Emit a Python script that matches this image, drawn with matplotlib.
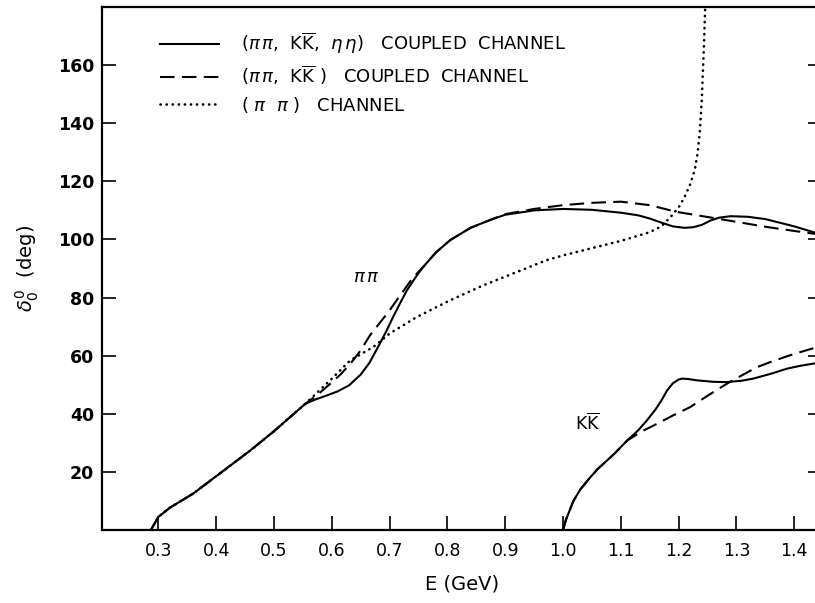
import numpy as np
import matplotlib
matplotlib.use("Agg")
import matplotlib.pyplot as plt

plt.rcParams['font.family'] = ['DejaVu Sans']
plt.rcParams['mathtext.fontset'] = 'dejavusans'

# pi-pi phase shift, three coupled channels (solid)
e_pp3 = [0.287, 0.30, 0.32, 0.36, 0.40, 0.4585, 0.50, 0.554, 0.57, 0.59, 0.61, 0.63,
         0.65, 0.665, 0.683, 0.695, 0.706, 0.718, 0.73, 0.745, 0.758, 0.78, 0.805,
         0.84, 0.874, 0.90, 0.95, 1.00, 1.05, 1.10, 1.13, 1.15, 1.17, 1.19, 1.21,
         1.225, 1.24, 1.255, 1.27, 1.29, 1.32, 1.35, 1.40, 1.45]
d_pp3 = [0.0, 4.5, 7.7, 12.5, 18.5, 27.3, 34.0, 43.4, 44.8, 46.2, 47.7, 49.8,
         53.5, 57.5, 64.1, 68.7, 73.3, 78.0, 82.5, 87.0, 90.5, 95.5, 99.8,
         104.0, 106.7, 108.5, 110.0, 110.5, 110.2, 109.2, 108.3, 107.2, 105.8, 104.5, 104.0,
         104.2, 105.0, 106.5, 107.5, 108.0, 107.8, 107.0, 104.5, 101.5]

# pi-pi phase shift, two coupled channels (dashed)
e_pp2 = [0.287, 0.30, 0.32, 0.36, 0.40, 0.4585, 0.50, 0.554, 0.575, 0.597, 0.615, 0.632,
         0.65, 0.666, 0.685, 0.70, 0.712, 0.723, 0.74, 0.758, 0.78, 0.805, 0.84, 0.874,
         0.90, 0.95, 1.00, 1.05, 1.10, 1.15, 1.196, 1.266, 1.352, 1.45]
d_pp2 = [0.0, 4.5, 7.7, 12.5, 18.5, 27.3, 34.0, 43.4, 46.5, 50.3, 53.5, 57.2,
         61.8, 67.0, 71.8, 75.6, 79.0, 82.0, 86.8, 90.5, 95.5, 99.8, 104.0, 106.7,
         108.7, 110.5, 111.8, 112.6, 113.0, 111.8, 109.5, 107.2, 104.3, 101.5]

# pi-pi phase shift, single channel (dotted)
e_pp1 = [0.287, 0.30, 0.32, 0.36, 0.40, 0.4585, 0.50, 0.554, 0.597, 0.632, 0.672,
         0.70, 0.747, 0.804, 0.862, 0.972, 1.00, 1.05, 1.10, 1.15, 1.17, 1.185, 1.20,
         1.21, 1.22, 1.228, 1.233, 1.237, 1.24, 1.242, 1.244, 1.246]
d_pp1 = [0.0, 4.5, 7.7, 12.5, 18.5, 27.3, 34.0, 43.4, 51.5, 58.4, 63.0,
         67.6, 73.3, 79.0, 84.2, 92.9, 94.5, 97.0, 99.5, 102.5, 104.5, 107.5, 111.0,
         114.5, 119.0, 124.0, 130.0, 138.0, 148.0, 158.0, 168.0, 180.0]

# K-Kbar phase shift, three coupled channels (solid)
e_kk3 = [1.0, 1.005, 1.01, 1.018, 1.03, 1.047, 1.06, 1.076, 1.09, 1.111, 1.13, 1.145,
         1.16, 1.17, 1.18, 1.19, 1.20, 1.206, 1.215, 1.232, 1.26, 1.283, 1.31, 1.329,
         1.36, 1.387, 1.41, 1.45]
d_kk3 = [0.0, 3.5, 6.0, 10.0, 14.0, 18.1, 21.0, 23.9, 26.5, 30.8, 34.3, 37.7,
         41.5, 44.5, 48.0, 50.5, 51.8, 52.1, 52.0, 51.5, 51.0, 50.9, 51.4, 52.1,
         53.8, 55.5, 56.5, 57.8]

# K-Kbar phase shift, two coupled channels (dashed)
e_kk2 = [1.0, 1.005, 1.01, 1.018, 1.03, 1.047, 1.06, 1.076, 1.09, 1.111, 1.135, 1.162,
         1.19, 1.22, 1.25, 1.283, 1.31, 1.335, 1.36, 1.392, 1.42, 1.45]
d_kk2 = [0.0, 3.5, 6.0, 10.0, 14.0, 18.1, 21.0, 23.9, 26.5, 30.8, 33.8, 36.5,
         39.4, 42.3, 46.2, 50.3, 53.3, 56.0, 57.9, 60.1, 61.8, 63.5]

xticks = [0.3, 0.4, 0.5, 0.6, 0.7, 0.8, 0.9, 1.0, 1.1, 1.2, 1.3, 1.4]
xticklabels = ['0.3', '0.4', '0.5', '0.6', '0.7', '0.8', '0.9', '1.0', '1.1', '1.2', '1.3', '1.4']
yticks = [20, 40, 60, 80, 100, 120, 140, 160]

labels = [r'($\pi\,\pi$,  K$\overline{\rm K}$,  $\eta\,\eta$)   COUPLED  CHANNEL',
          r'($\pi\,\pi$,  K$\overline{\rm K}$ )   COUPLED  CHANNEL',
          r'( $\pi$  $\pi$ )   CHANNEL']

fig = plt.figure(figsize=(8.15, 6.03), dpi=100)
ax = fig.add_axes([102.3 / 815, 73 / 603, 719.7 / 815, 523 / 603])

lw = 1.5
l1, = ax.plot(e_pp3, d_pp3, color='black', lw=lw, solid_joinstyle='round')
l2, = ax.plot(e_pp2, d_pp2, color='black', lw=lw, linestyle=(0, (7, 3.5)))
l3, = ax.plot(e_pp1, d_pp1, color='black', lw=1.9, linestyle=(0, (0.1, 2.2)),
              dash_capstyle='round')
ax.plot(e_kk3, d_kk3, color='black', lw=lw, solid_joinstyle='round')
ax.plot(e_kk2, d_kk2, color='black', lw=lw, linestyle=(0, (7, 3.5)))

ax.text(0.66, 87, r'$\pi\,\pi$', fontsize=13, ha='center', va='center')
ax.text(1.042, 36.6, r'K$\overline{\rm K}$', fontsize=12.5, ha='center', va='center')

ax.set_xlim(0.203, 1.448)
ax.set_ylim(0, 180)
ax.set_xticks(xticks)
ax.set_xticklabels(xticklabels)
ax.set_yticks(yticks)
ax.tick_params(direction='in', length=10, width=1.2, labelsize=12.5)
ax.tick_params(axis='y', right=True, pad=6)
ax.tick_params(axis='x', pad=9)
for lab in ax.get_yticklabels():
    lab.set_fontweight('bold')
for sp in ax.spines.values():
    sp.set_linewidth(1.6)

ax.set_xlabel('E (GeV)', fontsize=14, labelpad=10)
ax.set_ylabel(r'$\delta_0^0$  (deg)', fontsize=14, labelpad=12)

ax.legend([l1, l2, l3], labels, loc='upper left', bbox_to_anchor=(0.08, 0.955),
          frameon=False, fontsize=13, handlelength=3.3, handletextpad=1.2,
          labelspacing=0.42, borderpad=0, borderaxespad=0)

fig.savefig('out.png', dpi=100)
